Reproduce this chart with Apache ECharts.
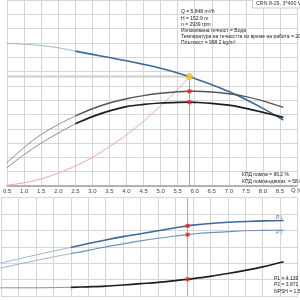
<!DOCTYPE html>
<html><head><meta charset="utf-8">
<script src="https://cdn.jsdelivr.net/npm/echarts@6/dist/echarts.min.js"></script>
<style>html,body{margin:0;padding:0;background:#fff}#c{width:300px;height:300px}</style>
</head><body><div id="c"></div>
<script>
// Flow values (m³/h)
const flow = [0.48,1,1.5,2,2.5,3,3.5,4,4.5,5,5.5,5.848,6,6.5,7,7.5,8,8.6];
const head = [199.5,198.2,196.3,193.2,188.5,184,179.5,175,170,164.5,158,152.9,150.2,141.5,132,121,108.5,92.3];
const etaPump = [16,27,36,43,49,54,58,61,63.2,64.8,65.9,66.2,66.2,65.7,64.5,62.5,59.5,55];
const etaTotal = [12.6,22,30,37,43.5,48.5,52.5,55.5,57,58,58.5,58.6,58.5,57.8,56.5,54.3,51.5,48];
const powerP1 = [3.0,3.13,3.25,3.37,3.48,3.6,3.71,3.81,3.9,3.99,4.08,4.139,4.16,4.21,4.25,4.27,4.29,4.3];
const powerP2 = [2.85,2.97,3.08,3.19,3.29,3.39,3.5,3.59,3.68,3.76,3.83,3.871,3.89,3.93,3.96,3.99,4.0,4.01];
const npsh = [1.0,1.0,1.0,1.01,1.03,1.06,1.1,1.17,1.25,1.33,1.44,1.52,1.56,1.7,1.87,2.06,2.28,2.59];
const sysFlow = [0.48,1,1.5,2,2.5,3,3.5,4,4.5,5,5.5,5.848];
const sysHead = [1,4.5,10,18,28,40,55,71.5,90.5,112,135,152.9];
const duty = {q:5.848, h:152.9, etaP:66.2, etaT:58.6, p1:4.139, p2:3.871, npsh:1.52};
const infoLines = ["Q = 5.848 m³/h","H = 152.9 m","n = 2939 rpm","Изпомпвана течност = Вода","Температура на течността по време на работа = 20 °C","Плътност = 998.2 kg/m³"];
const etaLines = ["КПД помпа = 66.2 %","КПД помпа+двигат. = 58.6 %"];
const powerLines = ["P1 = 4.139 kW","P2 = 3.871 kW","NPSH = 1.52 m"];
const titleText = "CRN 8-29, 3*400 V, 50Hz";

const splitIdx = 4; // flow 2.5
function pairs(ys, from, to){ const out=[]; for(let i=from;i<to;i++) out.push([flow[i], ys[i]]); return out; }
const N = flow.length;
const FONT = 'Liberation Sans';

const chart = echarts.init(document.getElementById('c'), null, {renderer:'canvas'});
const grid0 = {left:1, top:0, width:296.6, height:186};
const grid1 = {left:1, top:197.6, width:296.6, height:98.4};
function sl(){ return {show:true, lineStyle:{color:'#d6d6d6', width:1, type:'solid'}}; }

function lineS(name, xi, yi, data, color, width){
  return {name, type:'line', xAxisIndex:xi, yAxisIndex:yi, data, smooth:0.35, symbol:'none',
    lineStyle:{color, width}, silent:true, animation:false, z:3};
}
function dots(xi, yi, data, color, size, symbol, border){
  return {type:'scatter', xAxisIndex:xi, yAxisIndex:yi, data, symbol:symbol||'rect', symbolSize:size,
    itemStyle:{color, borderColor:border||color, borderWidth:border?0.8:0}, silent:true, animation:false, z:6};
}

const textG = [];
infoLines.forEach((t,i)=>textG.push({type:'text', left:181, top:9.5+i*6.2, style:{text:t, font:'5px '+FONT, fill:'#222'}, z:20}));
etaLines.forEach((t,i)=>textG.push({type:'text', left:242, top:172+i*7, style:{text:t, font:'5px '+FONT, fill:'#222'}, z:20}));
powerLines.forEach((t,i)=>textG.push({type:'text', left:274, top:276+i*6.6, style:{text:t, font:'5px '+FONT, fill:'#222'}, z:20}));
textG.push({type:'rect', shape:{x:252.5, y:-2, width:60, height:10}, style:{fill:'#fff', stroke:'#c8c8c8', lineWidth:1}, z:10});
textG.push({type:'text', left:256, top:1, style:{text:titleText, font:'5.3px '+FONT, fill:'#333'}, z:11});
textG.push({type:'text', left:291, top:187, style:{text:'Q [m³/h]', font:'6px '+FONT, fill:'#444'}});
textG.push({type:'text', left:276, top:215.5, style:{text:'P1', font:'5.3px '+FONT, fill:'#4a6c90'}});
textG.push({type:'text', left:276, top:230.5, style:{text:'P2', font:'5.3px '+FONT, fill:'#4a6c90'}});

chart.setOption({
  animation:false,
  backgroundColor:'#fff',
  grid:[grid0, grid1],
  xAxis:[
    {type:'value', gridIndex:0, min:0.5, max:9, interval:0.5,
      axisLine:{show:true, onZero:false, lineStyle:{color:'#a0a0a0', width:1.5}}, axisTick:{show:false},
      axisLabel:{fontSize:6, fontFamily:FONT, color:'#444', margin:2,
        formatter:v=> v>=9 ? '' : v.toFixed(1)}, splitLine:sl()},
    {type:'value', gridIndex:1, min:0.5, max:9, interval:0.5,
      axisLine:{show:false}, axisTick:{show:false}, axisLabel:{show:false}, splitLine:sl()}
  ],
  yAxis:[
    {type:'value', gridIndex:0, min:0, max:260, interval:20, axisLine:{show:false}, axisTick:{show:false}, axisLabel:{show:false}, splitLine:sl()},
    {type:'value', gridIndex:0, min:0, max:130, interval:10, axisLine:{show:false}, axisTick:{show:false}, axisLabel:{show:false}, splitLine:{show:false}},
    {type:'value', gridIndex:1, min:2, max:5, interval:0.5, axisLine:{show:false}, axisTick:{show:false}, axisLabel:{show:false}, splitLine:sl()},
    {type:'value', gridIndex:1, min:0.5, max:6.5, interval:1, axisLine:{show:false}, axisTick:{show:false}, axisLabel:{show:false}, splitLine:{show:false}}
  ],
  graphic: textG,
  series:[
    {type:'line', xAxisIndex:0, yAxisIndex:0, data:[[0.5,duty.h],[duty.q,duty.h]], symbol:'none', lineStyle:{color:'#cfcfcf', width:2}, z:2, silent:true},
    {type:'line', xAxisIndex:0, yAxisIndex:0, data:[[duty.q,duty.h],[duty.q,0]], symbol:'none', lineStyle:{color:'#a8a8a8', width:1}, z:2, silent:true},
    {type:'line', xAxisIndex:1, yAxisIndex:2, data:[[duty.q,5],[duty.q,2]], symbol:'none', lineStyle:{color:'#a8a8a8', width:1}, z:2, silent:true},
    lineS('sys',0,0, sysFlow.map((q,i)=>[q,sysHead[i]]), '#f7a5a5', 1),
    lineS('H thin',0,0, pairs(head,0,splitIdx+1), '#9db5d0', 1),
    lineS('H',0,0, pairs(head,splitIdx,N), '#3a6aa0', 1.6),
    lineS('eta thin',0,1, pairs(etaPump,0,splitIdx+1), '#8c8c8c', 1),
    lineS('eta',0,1, pairs(etaPump,splitIdx,N), '#555', 1.4),
    lineS('etaT thin',0,1, pairs(etaTotal,0,splitIdx+1), '#8c8c8c', 1),
    lineS('etaT',0,1, pairs(etaTotal,splitIdx,N), '#1e1e1e', 1.7),
    lineS('P1 thin',1,2, pairs(powerP1,0,splitIdx+1), '#9db5d0', 1),
    lineS('P1',1,2, pairs(powerP1,splitIdx,N), '#3a6aa0', 1.6),
    lineS('P2 thin',1,2, pairs(powerP2,0,splitIdx+1), '#9db5d0', 1),
    lineS('P2',1,2, pairs(powerP2,splitIdx,N), '#6f93bb', 1.2),
    lineS('NPSH thin',1,3, pairs(npsh,0,splitIdx+1), '#8c8c8c', 1),
    lineS('NPSH',1,3, pairs(npsh,splitIdx,N), '#1e1e1e', 1.7),
    dots(0,1, [[duty.q,duty.etaP],[duty.q,duty.etaT]], '#ff1a1a', 4),
    dots(1,2, [[duty.q,duty.p1],[duty.q,duty.p2]], '#ff1a1a', 4),
    dots(1,3, [[duty.q,duty.npsh]], '#ff1a1a', 4),
    dots(0,0, [[duty.q,duty.h]], '#ffd21f', 6, 'circle', '#e0a000')
  ]
});
</script></body></html>
